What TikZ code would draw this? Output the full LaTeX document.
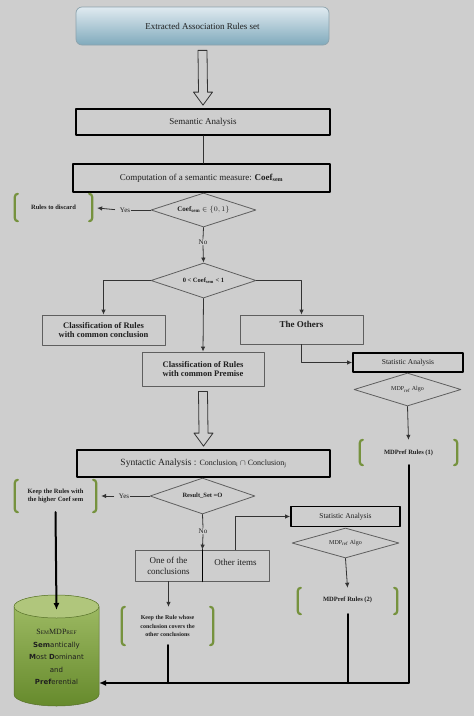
\documentclass[tikz,border=0pt]{standalone}
\usepackage{fontspec}
\setmainfont{Liberation Serif}
\newfontfamily\dbfont{DejaVu Sans}
\usetikzlibrary{shapes.geometric,calc,arrows.meta}

\definecolor{bgc}{RGB}{206,206,206}
\definecolor{boxline}{RGB}{95,95,95}
\definecolor{brk}{RGB}{118,146,62}
\definecolor{srctop}{RGB}{224,234,240}
\definecolor{srcbot}{RGB}{128,170,188}
\definecolor{srcline}{RGB}{140,162,172}
\definecolor{dbtop}{RGB}{162,190,104}
\definecolor{dbbot}{RGB}{102,138,44}
\definecolor{dbcap}{RGB}{176,198,124}
\definecolor{dbline}{RGB}{86,112,40}

% green brackets on the two sides of a node
\newcommand{\greenbrackets}[1]{%
  \draw[bracket] ([xshift=3pt]#1.north west) -- (#1.north west) -- (#1.south west) -- ([xshift=3pt]#1.south west);
  \draw[bracket] ([xshift=-3pt]#1.north east) -- (#1.north east) -- (#1.south east) -- ([xshift=-3pt]#1.south east);}

% hollow block arrow from the bottom of #1 to the top of #2
\newcommand{\hollowarrow}[2]{%
  \draw[hollow] ($(#1.south)+(-4.5pt,-5pt)$) -- ($(#2.north)+(-4.5pt,16pt)$) -- ($(#2.north)+(-9.5pt,16pt)$)
    -- ($(#2.north)+(0,3pt)$) -- ($(#2.north)+(9.5pt,16pt)$) -- ($(#2.north)+(4.5pt,16pt)$)
    -- ($(#1.south)+(4.5pt,-5pt)$) -- cycle;}

\begin{document}
\begin{tikzpicture}[x=50pt,y=50pt,line cap=round,line join=round,>={Latex[length=5pt,width=4.5pt]},
  every node/.style={inner sep=1pt,text=black!88},
  source/.style={draw=srcline,line width=0.7pt,rounded corners=6pt,top color=srctop,bottom color=srcbot,
    minimum width=253pt,minimum height=38pt,font=\fontsize{9}{10}\selectfont},
  box/.style={draw=boxline,line width=0.8pt,align=center},
  thickbox/.style={draw=black,line width=1.8pt,align=center},
  choice/.style={diamond,draw=boxline,line width=0.8pt,inner sep=0pt,aspect=3},
  bracketbox/.style={align=center,font=\bfseries\fontsize{6.5}{8.5}\selectfont},
  tag/.style={font=\fontsize{7}{8}\selectfont},
  link/.style={draw=black!80,line width=0.8pt},
  bus/.style={draw=black,line width=2pt},
  bracket/.style={draw=brk,line width=2.2pt,rounded corners=3pt},
  hollow/.style={draw=black!80,line width=0.8pt,fill=bgc}]

  \fill[bgc] (0,0) rectangle (9.48,-14.32);
  \useasboundingbox (0,0) rectangle (9.48,-14.32);

  % semantic part
  \node[source] (src) at (4.05,-0.52) {Extracted Association Rules set};
  \node[thickbox,minimum width=254pt,minimum height=26pt,font=\fontsize{9}{10}\selectfont] (sem) at (4.06,-2.44) {Semantic Analysis};
  \node[thickbox,minimum width=257pt,minimum height=28pt,font=\fontsize{9}{10}\selectfont] (comp) at (4.03,-3.56)
    {Computation of a semantic measure: \textbf{Coef\textsubscript{sem}}};
  \node[choice,minimum width=105pt,minimum height=34pt,font=\bfseries\fontsize{7}{8}\selectfont] (d1) at (4.07,-4.2)
    {Coef\textsubscript{sem} $\in\{0,1\}$};
  \node[bracketbox,minimum width=77pt,minimum height=27pt] (discard) at (1.07,-4.15) {Rules to discard};
  \node[tag] (yes1) at (2.5,-4.2) {Yes};
  \node[tag] (no1) at (4.06,-4.84) {No};
  \node[choice,minimum width=105pt,minimum height=35pt,font=\bfseries\fontsize{6.5}{7.5}\selectfont] (d2) at (4.07,-5.61)
    {0 < Coef\textsubscript{sem} < 1};
  \node[box,minimum width=123pt,minimum height=30pt,font=\bfseries\fontsize{8.5}{9.5}\selectfont] (conc) at (2.07,-6.6)
    {Classification of Rules\\with common conclusion};
  \node[box,minimum width=122pt,minimum height=34pt,font=\bfseries\fontsize{8.5}{9.5}\selectfont] (prem) at (4.06,-7.38)
    {Classification of Rules\\with common Premise};
  \node[box,minimum width=123pt,minimum height=29pt,text depth=11pt,font=\bfseries\fontsize{9}{10}\selectfont] (others) at (6.03,-6.59)
    {The Others};
  \node[thickbox,minimum width=110pt,minimum height=19pt,font=\fontsize{7.5}{8.5}\selectfont] (stat1) at (8.16,-7.25) {Statistic Analysis};
  \node[choice,minimum width=107pt,minimum height=33pt,font=\fontsize{6}{7}\selectfont] (algo1) at (8.15,-7.79) {MDP\textsubscript{ref} Algo};
  \node[bracketbox,minimum width=97pt,minimum height=25pt] (rules1) at (8.17,-9.05) {MDPref Rules (1)};

  % syntactic part
  \node[thickbox,minimum width=253pt,minimum height=27pt,font=\fontsize{9.5}{10.5}\selectfont] (syn) at (4.07,-9.27)
    {Syntactic Analysis : {\fontsize{8}{9}\selectfont Conclusion\textsubscript{i} $\cap$ Conclusion\textsubscript{j}}};
  \node[choice,minimum width=105pt,minimum height=36pt,font=\bfseries\fontsize{6.5}{7.5}\selectfont] (d4) at (4.05,-9.92) {Result\_Set =O};
  \node[bracketbox,minimum width=81pt,minimum height=32pt] (keep1) at (1.11,-9.92) {Keep the Rules with\\the higher Coef sem};
  \node[tag] (yes2) at (2.48,-9.92) {Yes};
  \node[tag] (no2) at (4.06,-10.62) {No};
  \node[box,minimum width=67pt,minimum height=31pt,font=\fontsize{9}{11}\selectfont] (one) at (3.37,-11.31) {One of the\\conclusions};
  \node[box,minimum width=67pt,minimum height=31pt,text depth=6pt,font=\fontsize{9}{10}\selectfont] (other) at (4.71,-11.31) {Other items};
  \node[thickbox,minimum width=109pt,minimum height=20pt,font=\fontsize{7.5}{8.5}\selectfont] (stat2) at (6.91,-10.33) {Statistic Analysis};
  \node[choice,minimum width=107pt,minimum height=30pt,font=\fontsize{6}{7}\selectfont] (algo2) at (6.91,-10.86) {MDP\textsubscript{ref} Algo};
  \node[bracketbox,minimum width=99pt,minimum height=26pt,text depth=4pt] (rules2) at (6.95,-12.02) {MDPref Rules (2)};
  \node[bracketbox,minimum width=91pt,minimum height=38pt,font=\bfseries\fontsize{6}{8.5}\selectfont] (keep2) at (3.35,-12.52)
    {Keep the Rule whose\\conclusion covers the\\other conclusions};

  \greenbrackets{discard}
  \greenbrackets{rules1}
  \greenbrackets{keep1}
  \greenbrackets{rules2}
  \greenbrackets{keep2}

  % result base
  \shade[top color=dbtop,bottom color=dbbot] (0.28,-12.13) -- (0.28,-13.89)
    arc[start angle=180,end angle=360,x radius=0.85,y radius=0.23] -- (1.98,-12.13)
    arc[start angle=0,end angle=180,x radius=0.85,y radius=0.23] -- cycle;
  \draw[dbline,line width=0.5pt] (0.28,-12.13) -- (0.28,-13.89)
    arc[start angle=180,end angle=360,x radius=0.85,y radius=0.23] -- (1.98,-12.13);
  \filldraw[fill=dbcap,draw=dbline,line width=0.5pt] (1.13,-12.13) ellipse[x radius=0.85,y radius=0.23];
  \node[align=center,font=\dbfont\fontsize{7}{12.6}\selectfont] (db) at (1.13,-13.14)
    {{\rmfamily\fontsize{8}{9}\selectfont S{\fontsize{5.5}{6}\selectfont EM}MDP{\fontsize{5.5}{6}\selectfont REF}}\\
     \textbf{Sem}antically\\ \textbf{M}ost \textbf{D}ominant\\ and\\ \textbf{Pref}erential};
  \coordinate (dbin) at (1.13,-12.2);
  \coordinate (busend) at (1.98,-13.66);

  % connectors
  \hollowarrow{src}{sem}
  \hollowarrow{prem}{syn}
  \draw[link] (sem.south) -- (sem.south |- comp.north);
  \draw[link] (d1.west) -- (yes1.east);
  \draw[link,->,shorten <=4pt,shorten >=5pt] (yes1.west) -- (discard.east);
  \draw[link] (d1.south) -- (no1.north);
  \draw[link,->] (no1.south) -- (d2.north);
  \draw[link,->] (d2.west) -| (conc.north);
  \draw[link,->] (d2.south) -- (prem.north);
  \draw[link,->] (d2.east) -| (others.north);
  \draw[link,->] (others.south) |- (stat1.west);
  \draw[link,->] (algo1.south) -- (rules1.north);
  \draw[link] (d4.west) -- (yes2.east);
  \draw[link,->,shorten <=4pt,shorten >=5pt] (yes2.west) -- (keep1.east);
  \draw[link] (d4.south) -- (no2.north);
  \draw[link,->] (no2.south) -- (one.north east);
  \draw[black,line width=1.2pt] (one.north east) -- (one.south east);
  \draw[link,->] (other.north) |- (stat2.west);
  \draw[link,->] (algo2.south) -- (rules2.north);
  \draw[link,->] (one.south) -- (one.south |- keep2.north);
  \draw[bus,-{Latex[length=7pt,width=6pt]}] (keep1.south) -- (dbin);
  \draw[bus,-{Latex[length=7pt,width=6pt]}] (rules1.south) |- (busend);
  \draw[bus] (rules2.south) -- (rules2.south |- busend);
  \draw[bus] (keep2.south) -- (keep2.south |- busend);
\end{tikzpicture}
\end{document}
